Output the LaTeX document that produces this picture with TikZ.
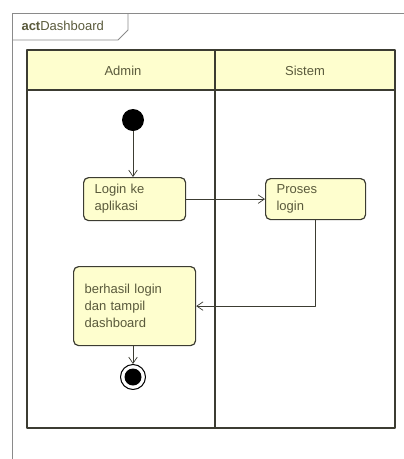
\documentclass[tikz,border=0pt]{standalone}
\usepackage{fontspec}
\setmainfont{Liberation Sans}
\usepackage{xcolor}
\usepackage{tikz}
\usetikzlibrary{arrows.meta,positioning}
\definecolor{actFill}{HTML}{FEFECE}
\definecolor{actInk}{HTML}{5A5A3C}
\definecolor{actLine}{HTML}{3C3C32}
\definecolor{actFrame}{HTML}{8A8A8A}
\tikzset{
  act diagram/.style={x=1pt, y=-1pt, font=\fontsize{13}{17}\selectfont, text=actInk,
    line join=round},
  act lane/.style={draw=actLine, line width=1.2pt},
  act head/.style={act lane, fill=actFill},
  act box/.style={draw=actLine, fill=actFill, line width=1.2pt,
    rounded corners=5pt, align=left, anchor=north west, inner xsep=11pt, inner ysep=0pt},
  act arrow/.style={-{Straight Barb[length=2.2mm,width=3mm]}, draw=actLine, line width=0.7pt},
  act frame/.style={draw=actFrame, line width=0.8pt}
}
\begin{document}
\begin{tikzpicture}[act diagram]
\useasboundingbox (0,0) rectangle (404,459);
% frame
\draw[act frame] (12,459) -- (12,13) -- (404,13);
\draw[act frame] (12,40) -- (118,40) -- (128,30) -- (128,13);
\node[anchor=west] (title) at (18,26) {\textbf{act}Dashboard};
% swimlanes
\draw[act head] (27,50) rectangle (395,90);
\draw[act lane] (27,90) rectangle (395,428);
\draw[act lane] (215,50) -- (215,428);
\node (admin) at (123,71) {Admin};
\node (sistem) at (305,71) {Sistem};
% nodes
\node[circle, fill=black, minimum size=22pt, inner sep=0pt] (start) at (133,120) {};
\node[act box, text width=80pt, minimum height=43pt] (login) at (83,177)
  {Login ke\\aplikasi};
\node[act box, text width=78pt, minimum height=41pt] (proses) at (265,178)
  {Proses\\login};
\node[act box, text width=100pt, minimum height=79pt] (hasil) at (73,266)
  {berhasil login\\dan tampil\\dashboard};
\node[circle, draw=black, fill=white, line width=1pt, minimum size=25pt, inner sep=0pt] (end) at (133,377) {};
\node[circle, fill=black, minimum size=17pt, inner sep=0pt] at (end) {};
% flows
\draw[act arrow] (start) -- (login.north -| start);
\draw[act arrow] (login) -- (proses);
\draw[act arrow] (proses.south) |- (hasil.east);
\draw[act arrow] (hasil.south -| end) -- (end);
\end{tikzpicture}
\end{document}
